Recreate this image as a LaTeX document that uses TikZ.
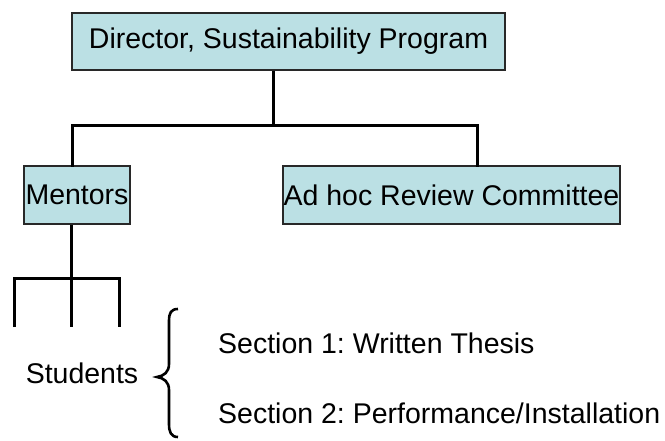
\documentclass[tikz,border=0pt]{standalone}
\usepackage{fontspec}
\setmainfont{Liberation Sans}
\frenchspacing
\definecolor{boxfill}{RGB}{187,224,228}
\definecolor{boxline}{RGB}{40,40,40}
\tikzset{
  orgbox/.style={draw=boxline, line width=1.3pt, fill=boxfill, inner sep=0pt, anchor=center,
    font=\fontsize{28.5}{32}\selectfont},
  conn/.style={line width=3pt, black},
  plain/.style={inner sep=0pt, font=\fontsize{28.5}{32}\selectfont},
}
\begin{document}
\begin{tikzpicture}[x=1pt, y=-1pt]
\useasboundingbox (0,0) rectangle (665,441);
\node[orgbox, minimum width=433pt, minimum height=57pt] (dir) at (288.5,41.5) {Director, Sustainability Program};
\node[orgbox, minimum width=106pt, minimum height=58pt] (mentors) at (77,195) {Mentors};
\node[orgbox, minimum width=337pt, minimum height=58pt] (adhoc) at (451.5,195) {Ad hoc Review Committee};
\coordinate (j0) at (273,126);
\coordinate (jL) at (72,126);
\coordinate (jR) at (477,126);
\draw[conn] (dir.south -| j0) -- (j0);
\draw[conn, line cap=rect] (mentors.north -| jL) |- (jR) -- (adhoc.north -| jR);
\coordinate (m1) at (71,279);
\coordinate (s1) at (14,327);
\coordinate (s2) at (71,327);
\coordinate (s3) at (119,327);
\draw[conn] (mentors.south -| m1) -- (s2);
\draw[conn] (s1) |- (m1) -| (s3);
\node[plain] (students) at (82,373) {Students};
\node[plain, anchor=west] (sec1) at (218,343) {Section 1: Written Thesis};
\node[plain, anchor=west] (sec2) at (218,413) {Section 2: Performance/Installation};
\draw[line width=2.6pt] (178,309) .. controls (171,309) and (169,313) .. (169,321) -- (169,364)
  .. controls (169,372) and (164,376) .. (157,377) .. controls (164,378) and (169,382) .. (169,390)
  -- (169,424) .. controls (169,432) and (171,437) .. (178,437);
\end{tikzpicture}
\end{document}
